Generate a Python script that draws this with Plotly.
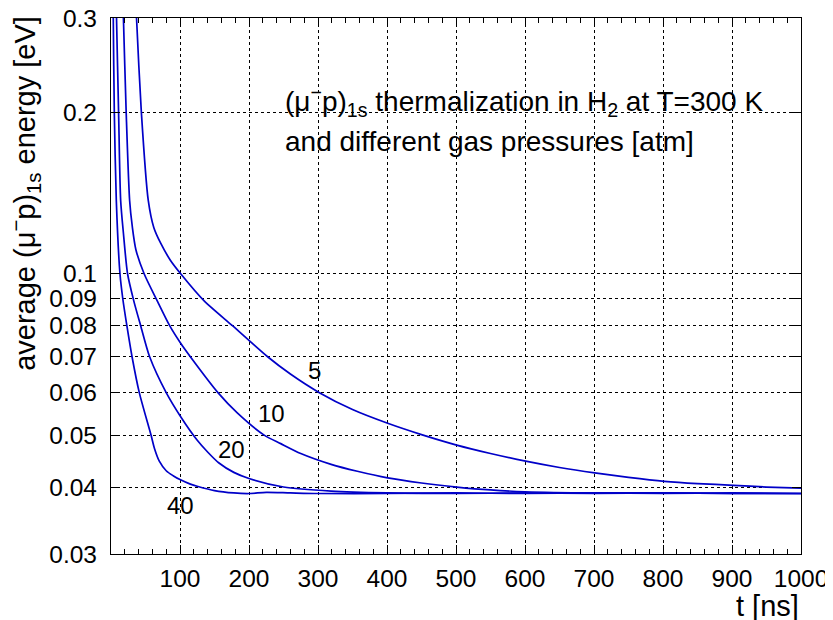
import math
import plotly.graph_objects as go

# time [ns] and average (mu-p)1s energy [eV] for each gas pressure [atm]
t_5 = [33, 37, 44, 54, 62, 72, 86, 101, 135, 176, 227, 260, 302, 350, 401, 450, 501, 550, 601, 650, 701, 750, 802, 850, 902, 950, 1000]
e_5 = [0.40, 0.30, 0.20, 0.137, 0.122, 0.114, 0.106, 0.100, 0.089, 0.080, 0.070, 0.0650, 0.060, 0.0558, 0.0526, 0.0501, 0.0479, 0.0462, 0.0447, 0.0435, 0.0425, 0.0417, 0.0410, 0.0406, 0.0403, 0.0400, 0.0398]

t_10 = [15, 18, 22, 27, 31, 36, 48, 67, 85, 100, 115, 155, 183, 222, 246, 275, 319, 357, 401, 450, 501, 550, 600, 700, 800, 900, 1000]
e_10 = [0.40, 0.30, 0.20, 0.137, 0.122, 0.111, 0.100, 0.089, 0.080, 0.0745, 0.070, 0.060, 0.055, 0.050, 0.0482, 0.0462, 0.0441, 0.0428, 0.0416, 0.0407, 0.0400, 0.0395, 0.0392, 0.0390, 0.0390, 0.0389, 0.0389]

t_20 = [6, 8, 11, 14, 18, 24, 33, 43, 56, 80, 101, 125, 140, 156, 178, 200, 250, 319, 400, 500, 600, 700, 800, 900, 1000]
e_20 = [0.40, 0.30, 0.20, 0.137, 0.119, 0.100, 0.089, 0.080, 0.070, 0.060, 0.0541, 0.0489, 0.0465, 0.0444, 0.0426, 0.0415, 0.0400, 0.0393, 0.0390, 0.0389, 0.0390, 0.0389, 0.0390, 0.0389, 0.0389]

t_40 = [2.5, 3.3, 4.8, 7.7, 13, 17, 23, 30.5, 41, 58, 63, 70, 80, 90, 100, 115, 126, 150, 178, 200, 225, 260, 300, 400, 500, 600, 700, 800, 900, 1000]
e_40 = [0.40, 0.30, 0.20, 0.137, 0.100, 0.090, 0.080, 0.070, 0.060, 0.050, 0.0472, 0.0447, 0.0429, 0.0420, 0.0413, 0.0405, 0.0401, 0.0394, 0.0390, 0.0389, 0.0391, 0.0390, 0.0389, 0.0389, 0.0390, 0.0389, 0.0390, 0.0389, 0.0390, 0.0389]

pressures = ["5", "10", "20", "40"]
label_t = [295, 232, 175, 100]
label_e = [0.066, 0.0549, 0.0469, 0.0370]

x_ticks = [100, 200, 300, 400, 500, 600, 700, 800, 900, 1000]
y_ticks = [0.03, 0.04, 0.05, 0.06, 0.07, 0.08, 0.09, 0.1, 0.2, 0.3]
y_ticktext = ["0.03", "0.04", "0.05", "0.06", "0.07", "0.08", "0.09", "0.1", "0.2", "0.3"]

FONT = "Liberation Sans, Arial, Helvetica, sans-serif"
BLUE = "#0000c8"

fig = go.Figure()
for tt, ee in [(t_5, e_5), (t_10, e_10), (t_20, e_20), (t_40, e_40)]:
    fig.add_trace(go.Scatter(x=tt, y=ee, mode="lines",
                             line=dict(color=BLUE, width=1.7, shape="spline", smoothing=0.7),
                             showlegend=False, hoverinfo="skip"))

for p, lt, le in zip(pressures, label_t, label_e):
    fig.add_annotation(x=lt, y=math.log10(le), text=p, showarrow=False,
                       font=dict(family=FONT, size=24, color="black"))

fig.add_annotation(xref="paper", yref="paper", x=0.249, y=0.845,
                   xanchor="left", yanchor="middle",
                   text="(μ<sup>−</sup>p)<sub>1s</sub> thermalization in H<sub>2</sub> at T=300 K",
                   showarrow=False, font=dict(family=FONT, size=28, color="black"))
fig.add_annotation(xref="paper", yref="paper", x=0.249, y=0.769,
                   xanchor="left", yanchor="middle",
                   text="and different gas pressures [atm]",
                   showarrow=False, font=dict(family=FONT, size=28, color="black"))

fig.add_annotation(xref="paper", yref="paper", x=1.0, y=-0.0966,
                   xanchor="right", yanchor="middle", text="t [ns]",
                   showarrow=False, font=dict(family=FONT, size=29, color="black"))
fig.add_annotation(xref="paper", yref="paper", x=-0.1246, y=0.672,
                   xanchor="center", yanchor="middle", textangle=-90,
                   text="average (μ<sup>−</sup>p)<sub>1s</sub> energy [eV]",
                   showarrow=False, font=dict(family=FONT, size=29, color="black"))

# the page body adds an 8 px offset, so the figure is 8 px smaller on each axis
fig.update_layout(
    width=825, height=612,
    margin=dict(l=103, r=32, t=10, b=66, autoexpand=False),
    paper_bgcolor="white", plot_bgcolor="white",
    font=dict(family=FONT, size=24, color="black"),
)
fig.update_xaxes(range=[0, 1000], tickvals=x_ticks, ticktext=[str(v) for v in x_ticks],
                 ticks="inside", ticklen=9, tickcolor="black", tickwidth=1,
                 showline=True, linecolor="black", linewidth=1.3, mirror="ticks",
                 showgrid=True, gridcolor="black", griddash="dot", gridwidth=1,
                 zeroline=False, ticklabelstandoff=2, automargin=False,
                 ticklabeloverflow="allow",
                 tickfont=dict(family=FONT, size=24.5, color="black"),
                 minor=dict(dtick=20, ticks="inside", ticklen=5, tickcolor="black", showgrid=False))
fig.update_yaxes(type="log", range=[math.log10(0.03), math.log10(0.3)],
                 tickvals=y_ticks, ticktext=y_ticktext,
                 ticks="inside", ticklen=9, tickcolor="black", tickwidth=1,
                 showline=True, linecolor="black", linewidth=1.3, mirror="ticks",
                 showgrid=True, gridcolor="black", griddash="dot", gridwidth=1,
                 zeroline=False, ticklabelstandoff=8, automargin=False,
                 ticklabeloverflow="allow",
                 tickfont=dict(family=FONT, size=24.5, color="black"))

fig.write_html("out.html")
